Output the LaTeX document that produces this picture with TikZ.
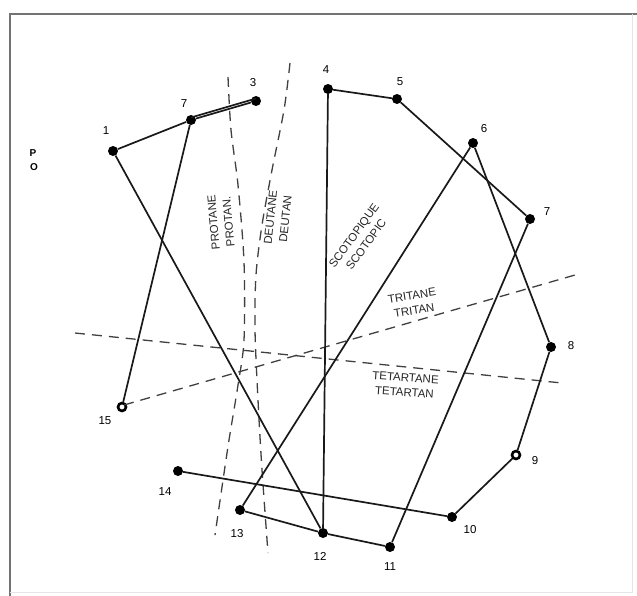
\documentclass[tikz,border=0pt]{standalone}
\usepackage{fontspec}
\setmainfont{Liberation Sans}
\begin{document}
\begin{tikzpicture}[x=1pt,y=-1pt,
  dot/.style={circle,fill=black,inner sep=0pt,minimum size=10pt},
  ring/.style={circle,draw=black,line width=2.6pt,fill=white,inner sep=0pt,minimum size=8pt},
  num/.style={font=\fontsize{11.5}{12}\selectfont,inner sep=0pt},
  axlab/.style={font=\fontsize{11.5}{15}\selectfont,align=center,inner sep=0pt,text=black!85},
  conn/.style={line width=1.7pt,black!90},
  axis/.style={line width=1.3pt,black!75,dash pattern=on 10pt off 7pt}]
\useasboundingbox (0,0) rectangle (637,595);
% frame
\draw[line width=2pt,black!55] (10,600) -- (10,14) -- (640,14);
\draw[line width=1pt,black!10] (632,14) -- (632,592) -- (10,592);
% caps
\node[dot] (n1) at (113,151) {};
\node[dot] (n2) at (191,120) {};
\node[dot] (n3) at (256,101) {};
\node[dot] (n4) at (328,89) {};
\node[dot] (n5) at (397,99) {};
\node[dot] (n6) at (473,143) {};
\node[dot] (n7) at (530,219) {};
\node[dot] (n8) at (551,347) {};
\node[ring] (n9) at (516,455) {};
\node[dot] (n10) at (452,517) {};
\node[dot] (n11) at (390,547) {};
\node[dot] (n12) at (323,533) {};
\node[dot] (n13) at (240,510) {};
\node[dot] (n14) at (178,471) {};
\node[ring] (n15) at (122,407) {};
% labels
\node[num] (l1) at (106,131) {1};
\node[num] (l2) at (184,104) {7};
\node[num] (l3) at (253,83) {3};
\node[num] (l4) at (326,70) {4};
\node[num] (l5) at (400,82) {5};
\node[num] (l6) at (484,129) {6};
\node[num] (l7) at (547,212) {7};
\node[num] (l8) at (571,346) {8};
\node[num] (l9) at (535,461) {9};
\node[num] (l10) at (470,530) {10};
\node[num] (l11) at (390,567) {11};
\node[num] (l12) at (320,556) {12};
\node[num] (l13) at (237,534) {13};
\node[num] (l14) at (165,492) {14};
\node[num] (l15) at (105,421) {15};
\node[font=\fontsize{10}{10}\selectfont\bfseries,inner sep=0pt] (lp) at (33,153) {P};
\node[font=\fontsize{10}{10}\selectfont\bfseries,inner sep=0pt] (lo) at (34,167) {O};
% axis lines
\coordinate (pt) at (228,77);
\coordinate (pb) at (215,535);
\coordinate (dt) at (290,63);
\coordinate (db) at (268,553);
\coordinate (ts) at (124,405);
\coordinate (te) at (575,275);
\coordinate (qs) at (75,333);
\coordinate (qe) at (562,383);
\draw[axis] plot[smooth] coordinates {(pt) (231,130) (238,185) (244,262) (244,340) (238,385) (229,440) (222,487) (pb)};
\draw[axis] plot[smooth] coordinates {(dt) (284,110) (272,170) (262,225) (256,275) (255,330) (258,400) (262,470) (db)};
\draw[axis] (ts) -- (te);
\draw[axis] (qs) -- (qe);
% axis labels
\node[axlab,rotate=95] (lprot) at (221,222) {PROTANE\\PROTAN.};
\node[axlab,rotate=84] (ldeut) at (278,218) {DEUTANE\\DEUTAN};
\node[axlab,rotate=54] (lscot) at (360,240) {SCOTOPIQUE\\SCOTOPIC};
\node[axlab,rotate=9] (ltrit) at (413,303) {TRITANE\\TRITAN};
\node[axlab,rotate=-4] (ltet) at (405,385) {TETARTANE\\TETARTAN};
% connectors
\draw[conn] (n1) -- (n2);
\draw[conn] (n2) -- (n3);
\draw[conn] ([yshift=2.5pt]n2.center) -- ([yshift=2.5pt]n3.center);
\draw[conn] (n2) -- (n15);
\draw[conn] (n1) -- (n12);
\draw[conn] (n4) -- (n12);
\draw[conn] (n4) -- (n5);
\draw[conn] (n5) -- (n7);
\draw[conn] (n6) -- (n13);
\draw[conn] (n6) -- (n8);
\draw[conn] (n7) -- (n11);
\draw[conn] (n8) -- (n9);
\draw[conn] (n9) -- (n10);
\draw[conn] (n10) -- (n14);
\draw[conn] (n13) -- (n12);
\draw[conn] (n12) -- (n11);
\end{tikzpicture}
\end{document}
